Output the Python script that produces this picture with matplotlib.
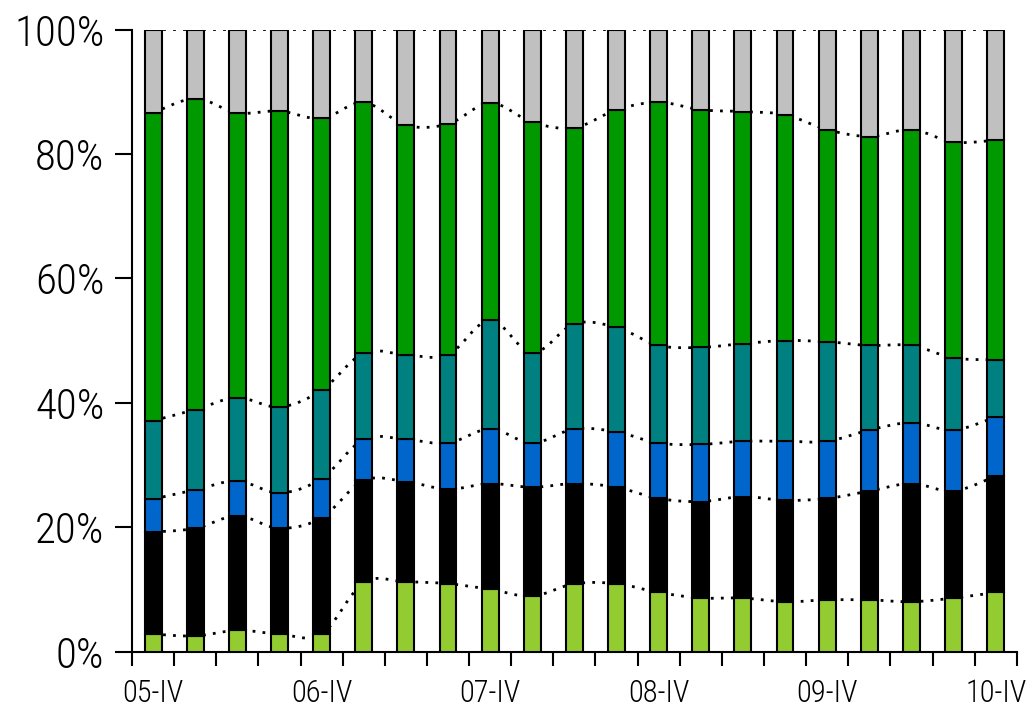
import numpy as np
import matplotlib
matplotlib.use("Agg")
import matplotlib.pyplot as plt
from matplotlib.path import Path
from matplotlib.patches import PathPatch
from matplotlib import font_manager

quarters = ["05-IV", "06-I", "06-II", "06-III", "06-IV", "07-I", "07-II", "07-III",
            "07-IV", "08-I", "08-II", "08-III", "08-IV", "09-I", "09-II", "09-III",
            "09-IV", "10-I", "10-II", "10-III", "10-IV"]

# cumulative tops of each segment (%)
top_lightgreen = [2.8, 2.5, 3.4, 2.8, 2.8, 11.1, 11.2, 10.9, 10.0, 8.9, 10.9,
                  10.9, 9.5, 8.6, 8.6, 8.0, 8.3, 8.3, 8.0, 8.6, 9.5]
top_black = [19.2, 19.8, 21.8, 19.8, 21.5, 27.5, 27.3, 26.1, 27.0, 26.4, 27.0,
             26.4, 24.6, 24.1, 24.9, 24.3, 24.6, 25.8, 27.0, 25.8, 28.2]
top_blue = [24.5, 26.0, 27.4, 25.5, 27.8, 34.1, 34.1, 33.5, 35.8, 33.5, 35.8,
            35.3, 33.5, 33.3, 33.8, 33.8, 33.8, 35.6, 36.8, 35.6, 37.7]
top_teal = [37.1, 38.9, 40.8, 39.3, 42.0, 48.0, 47.7, 47.7, 53.3, 48.0, 52.7,
            52.1, 49.2, 48.9, 49.5, 50.0, 49.8, 49.2, 49.2, 47.2, 46.9]
top_green = [86.6, 88.9, 86.6, 86.9, 85.7, 88.3, 84.6, 84.8, 88.2, 85.1, 84.2,
             87.1, 88.3, 87.1, 86.8, 86.3, 83.9, 82.8, 83.9, 81.9, 82.2]
top_gray = [100.0] * 21

colors = ["#92CC30", "#000000", "#0066CC", "#008080", "#009900", "#C0C0C0"]
series = [top_lightgreen, top_black, top_blue, top_teal, top_green, top_gray]

yticks = [0, 20, 40, 60, 80, 100]
ytick_labels = ["0%", "20%", "40%", "60%", "80%", "100%"]

# choose a narrow, light font if one is installed
fonts = font_manager.fontManager.ttflist
names = {f.name for f in fonts}
fam, stretch, weight = None, "normal", "light"
for cand in ["Liberation Sans Narrow", "Roboto Condensed", "Open Sans Condensed",
             "Noto Sans Condensed", "Arial Narrow"]:
    if cand in names:
        fam = cand
        break
if fam is None:
    for f in fonts:
        if f.name in ("Noto Sans", "Open Sans", "Roboto") and \
                str(f.stretch) in ("condensed", "semi-condensed", "extra-condensed"):
            fam, stretch = f.name, f.stretch
            break
if fam is None:
    fam = "Roboto" if "Roboto" in names else "DejaVu Sans"
    ysize, xsize = 26, 19
else:
    ysize, xsize = 31, 22
plt.rcParams["font.family"] = [fam, "DejaVu Sans"]

fig = plt.figure(figsize=(10.26, 7.08), dpi=100)
ax = fig.add_axes([0.1287, 0.0798, 0.8623, 0.8785])

x = np.arange(len(quarters))
width = 0.40

bottom = np.zeros(len(quarters))
for tops, c in zip(series, colors):
    tops = np.array(tops)
    ax.bar(x, tops - bottom, width, bottom=bottom, color=c, edgecolor="black",
           linewidth=1.5, zorder=3)
    bottom = tops


def smooth_path(xs, ys):
    # Catmull-Rom style cubic Bezier through the points (rendering only)
    verts = [(xs[0], ys[0])]
    codes = [Path.MOVETO]
    n = len(xs)
    for i in range(n - 1):
        p0 = (xs[i - 1], ys[i - 1]) if i > 0 else (xs[i], ys[i])
        p1 = (xs[i], ys[i])
        p2 = (xs[i + 1], ys[i + 1])
        p3 = (xs[i + 2], ys[i + 2]) if i + 2 < n else (xs[i + 1], ys[i + 1])
        t = 1.0 / 6.0
        c1 = (p1[0] + (p2[0] - p0[0]) * t, p1[1] + (p2[1] - p0[1]) * t)
        c2 = (p2[0] - (p3[0] - p1[0]) * t, p2[1] - (p3[1] - p1[1]) * t)
        verts += [c1, c2, p2]
        codes += [Path.CURVE4] * 3
    return Path(verts, codes)


for tops in series:
    patch = PathPatch(smooth_path(x, tops), facecolor="none", edgecolor="black",
                      linewidth=2.0, linestyle=(0, (1.0, 2.6)), zorder=2,
                      capstyle="butt")
    ax.add_patch(patch)

ax.set_xlim(-0.5, len(quarters) - 0.5)
ax.set_ylim(0, 100)

for s in ["top", "right"]:
    ax.spines[s].set_visible(False)
for s in ["left", "bottom"]:
    ax.spines[s].set_linewidth(1.5)

ax.set_yticks(yticks)
ax.set_yticklabels(ytick_labels, fontsize=ysize, fontstretch=stretch,
                   fontweight=weight)
ax.tick_params(axis="y", direction="out", length=12, width=1.5, pad=8)

ax.set_xticks(np.arange(-0.5, len(quarters), 1.0))
ax.set_xticklabels([])
ax.tick_params(axis="x", which="major", direction="out", length=10, width=1.5)
ax.set_xticks(x[::4], minor=True)
ax.set_xticklabels([quarters[i] for i in x[::4]], minor=True, fontsize=xsize,
                   fontstretch=stretch, fontweight=weight)
ax.tick_params(axis="x", which="minor", length=0, pad=20)

fig.savefig("out.png", dpi=100)
